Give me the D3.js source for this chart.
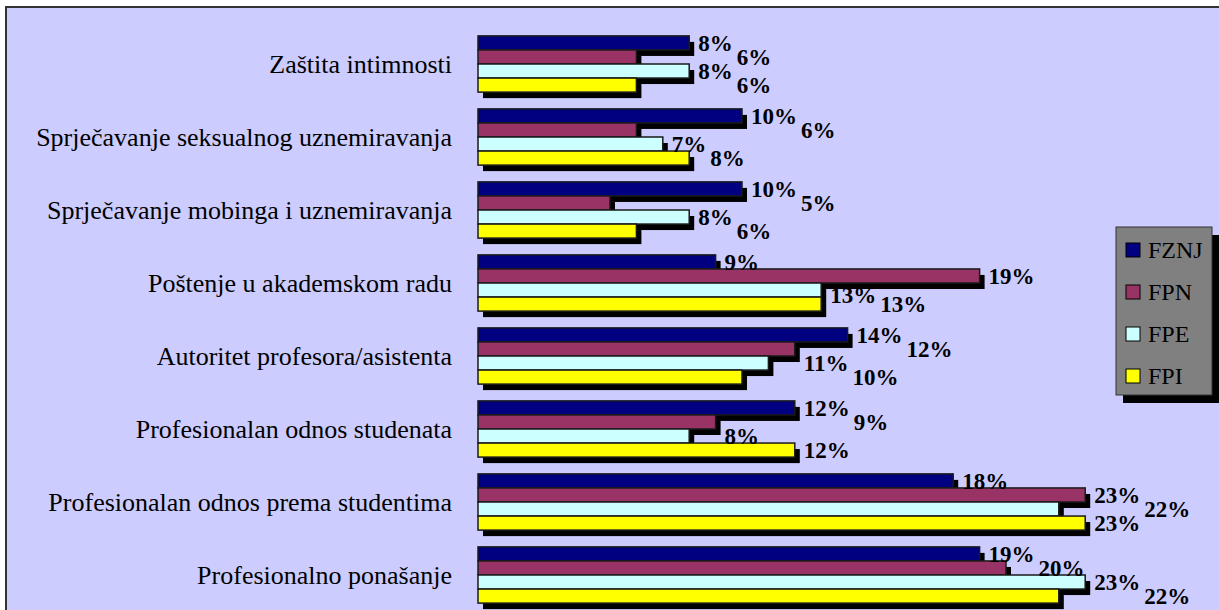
<!DOCTYPE html>
<html lang="hr">
<head>
  <meta charset="UTF-8">
  <title>Etički kodeks – grafikon</title>
  <style>
    html, body { margin: 0; padding: 0; background: #ffffff; }
    svg { display: block; }
    .cat { font: 26px "Liberation Serif", serif; fill: #000; text-anchor: end; }
    .val { font: bold 23px "Liberation Serif", serif; fill: #000; }
    .leg { font: 24px "Liberation Serif", serif; fill: #000; }
  </style>
</head>
<body>
  <svg width="1219" height="610"></svg>

  <script src="https://d3js.org/d3.v7.min.js"></script>
  <script>
    const categories = [
      "Zaštita intimnosti",
      "Sprječavanje seksualnog uznemiravanja",
      "Sprječavanje mobinga i uznemiravanja",
      "Poštenje u akademskom radu",
      "Autoritet profesora/asistenta",
      "Profesionalan odnos studenata",
      "Profesionalan odnos prema studentima",
      "Profesionalno ponašanje"
    ];
    const seriesNames = ["FZNJ", "FPN", "FPE", "FPI"];
    const fznj = [8, 10, 10, 9, 14, 12, 18, 19];
    const fpn  = [6, 6, 5, 19, 12, 9, 23, 20];
    const fpe  = [8, 7, 8, 13, 11, 8, 22, 23];
    const fpi  = [6, 8, 6, 13, 10, 12, 23, 22];
    const seriesColors = ["#000080", "#993366", "#CCFFFF", "#FFFF00"];

    const values = [fznj, fpn, fpe, fpi];
    const rows = [];
    categories.forEach((c, i) => {
      seriesNames.forEach((s, j) => rows.push({ cat: c, series: s, si: j, ci: i, value: values[j][i] }));
    });

    const width = 1219, height = 610;
    const svg = d3.select("svg");

    // plot area background + frame
    svg.append("rect")
      .attr("x", 6).attr("y", 7)
      .attr("width", width - 6).attr("height", height - 7)
      .attr("fill", "#CCCCFF");
    svg.append("path")
      .attr("d", `M6,${height} V7 H${width}`)
      .attr("fill", "none")
      .attr("stroke", "#333")
      .attr("stroke-width", 2);

    const x = d3.scaleLinear().domain([0, 25]).range([478, 1138]);
    const y = d3.scaleBand().domain(categories)
      .range([27.5, 611.5]).paddingInner(0.23).paddingOuter(0.115);
    const y1 = d3.scaleBand().domain(seriesNames).range([0, y.bandwidth()]);
    const color = d3.scaleOrdinal().domain(seriesNames).range(seriesColors);

    // shadows first
    svg.append("g").selectAll("rect")
      .data(rows)
      .join("rect")
      .attr("x", x(0) + 5)
      .attr("y", d => y(d.cat) + y1(d.series) + 6)
      .attr("width", d => x(d.value) - x(0))
      .attr("height", y1.bandwidth())
      .attr("fill", "#000");

    svg.append("g").selectAll("rect")
      .data(rows)
      .join("rect")
      .attr("x", x(0))
      .attr("y", d => y(d.cat) + y1(d.series))
      .attr("width", d => x(d.value) - x(0))
      .attr("height", y1.bandwidth())
      .attr("fill", d => color(d.series))
      .attr("stroke", "#1a1a1a")
      .attr("stroke-width", 1.5);

    // value labels: clear of the shadow of the bar above, nudged right when they hit the label above
    const labels = svg.append("g").selectAll("text")
      .data(rows)
      .join("text")
      .attr("class", "val")
      .attr("dy", "0.35em")
      .text(d => d.value + "%");

    let prev = null;
    labels.each(function (d) {
      const w = this.getComputedTextLength();
      const above = d.si > 0 ? values[d.si - 1][d.ci] : 0;
      let ly = y(d.cat) + y1(d.series) + y1.bandwidth() / 2;
      let lx;
      if (above - d.value > 5) {
        lx = x(d.value) + 9;
        ly += 5;
      } else {
        lx = x(Math.max(above, d.value)) + 9;
      }
      if (prev && prev.cat === d.cat && lx < prev.x + prev.w + 3 && lx + w > prev.x - 3) {
        lx = prev.x + prev.w + 4;
      }
      d3.select(this).attr("x", lx).attr("y", ly);
      prev = { cat: d.cat, x: lx, w: w };
    });

    // category labels
    svg.append("g").selectAll("text")
      .data(categories)
      .join("text")
      .attr("class", "cat")
      .attr("x", 452)
      .attr("y", d => y(d) + y.bandwidth() / 2)
      .attr("dy", "0.35em")
      .text(d => d);

    // legend
    const leg = svg.append("g").attr("transform", "translate(1116,227)");
    leg.append("rect").attr("x", 7).attr("y", 8).attr("width", 96).attr("height", 168).attr("fill", "#000");
    leg.append("rect").attr("width", 96).attr("height", 168)
      .attr("fill", "#808080").attr("stroke", "#333").attr("stroke-width", 1);
    const item = leg.selectAll("g.item")
      .data(seriesNames)
      .join("g")
      .attr("class", "item")
      .attr("transform", (d, i) => `translate(10,${23 + i * 42})`);
    item.append("rect")
      .attr("x", 0).attr("y", -7).attr("width", 14).attr("height", 14)
      .attr("fill", d => color(d)).attr("stroke", "#000").attr("stroke-width", 1);
    item.append("text")
      .attr("class", "leg")
      .attr("x", 22).attr("dy", "0.35em")
      .text(d => d);
  </script>
</body>
</html>
